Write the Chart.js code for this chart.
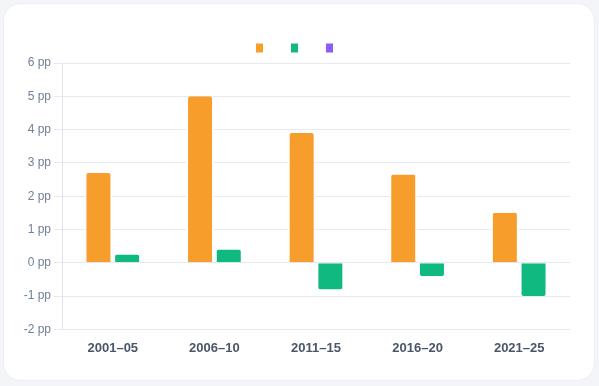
<!DOCTYPE html>
<html>
<head>
<meta charset="utf-8">
<script src="https://cdn.jsdelivr.net/npm/chart.js@4/dist/chart.umd.min.js"></script>
<style>
  html, body { margin: 0; padding: 0; background: #f3f5f9; }
  .card {
    position: absolute; left: 3px; top: 3px; width: 590px; height: 376px;
    background: #fff; border-radius: 18px; border: 1px solid #eceff4;
  }
  .wrap { position: absolute; left: 0; top: 0; width: 599px; height: 386px; }
</style>
</head>
<body>
<div class="card"></div>
<div class="wrap"><canvas id="chart"></canvas></div>
<script>
const periods = ['2001–05', '2006–10', '2011–15', '2016–20', '2021–25'];
const orangeValues = [2.7, 5.0, 3.9, 2.65, 1.5];
const greenValues = [0.25, 0.4, -0.8, -0.4, -1.0];
const purpleValues = [null, null, null, null, null];
const yTicks = [-2, -1, 0, 1, 2, 3, 4, 5, 6];

const fontFamily = '"Liberation Sans", Arial, Helvetica, sans-serif';

function barSet(values, color) {
    return {
        label: '',
        data: values,
        backgroundColor: color,
        borderColor: '#ffffff',
        borderWidth: { left: 2, right: 2, top: 0, bottom: 0 },
        borderRadius: 4,
        categoryPercentage: 0.565,
        barPercentage: 0.975
    };
}

const ctx = document.getElementById('chart').getContext('2d');
new Chart(ctx, {
    type: 'bar',
    data: {
        labels: periods,
        datasets: [
            barSet(orangeValues, '#f79d2b'),
            barSet(greenValues, '#0fb97f'),
            barSet(purpleValues, '#8b5cf6')
        ]
    },
    options: {
        responsive: true,
        maintainAspectRatio: false,
        animation: false,
        skipNull: true,
        layout: { padding: { left: 20, right: 29, top: 17, bottom: 27 } },
        plugins: {
            legend: {
                position: 'top',
                labels: {
                    boxWidth: 8,
                    boxHeight: 10,
                    padding: 26,
                    font: { size: 2 }
                }
            },
            tooltip: { enabled: false }
        },
        scales: {
            x: {
                grid: { display: false },
                border: { display: false },
                ticks: {
                    color: '#4a5568',
                    font: { family: fontFamily, size: 13, weight: 'bold' }
                }
            },
            y: {
                min: -2,
                max: 6,
                afterFit: scale => { scale.width = 42; },
                afterBuildTicks: scale => { scale.ticks = yTicks.map(v => ({ value: v })); },
                grid: { color: '#e6eaf0', tickLength: 8 },
                border: { color: '#e2e6ec' },
                ticks: {
                    color: '#718096',
                    font: { family: fontFamily, size: 12 },
                    callback: v => v + ' pp'
                }
            }
        }
    }
});
</script>
</body>
</html>
